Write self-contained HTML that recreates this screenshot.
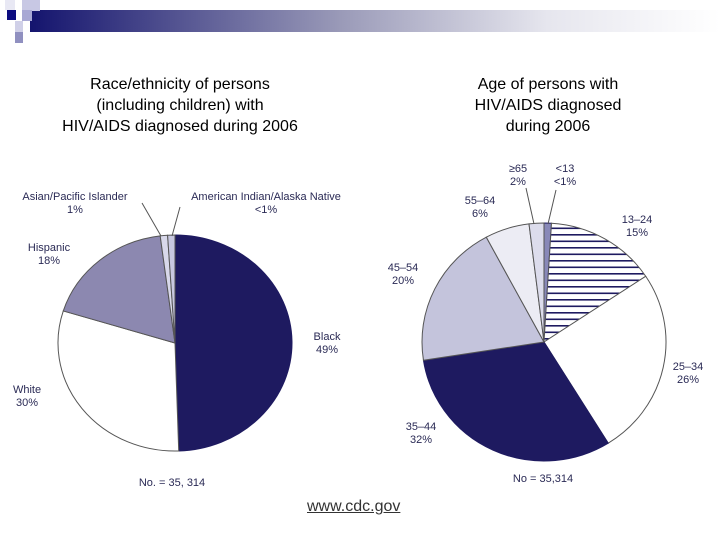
<!DOCTYPE html>
<html><head><meta charset="utf-8"><style>
body{margin:0;background:#fff;}
#wrap{position:relative;width:720px;height:540px;overflow:hidden;background:#fff;font-family:"Liberation Sans",Arial,sans-serif;}
.t{position:absolute;text-align:center;font-size:16px;color:#000;line-height:21px;}
</style></head><body>
<div id="wrap">
<svg width="720" height="540" style="position:absolute;left:0;top:0">
<defs>
<linearGradient id="bar" x1="0" x2="1" y1="0" y2="0">
<stop offset="0" stop-color="#14146e"/><stop offset="0.45" stop-color="#9a9ab8"/><stop offset="0.75" stop-color="#e6e6ee"/><stop offset="1" stop-color="#ffffff"/>
</linearGradient>
<pattern id="hatch" width="6" height="6.5" patternUnits="userSpaceOnUse"><rect width="6" height="6.5" fill="#fff"/><rect y="0" width="6" height="1.6" fill="#1e1a60"/></pattern>
</defs>
<rect x="30" y="10" width="690" height="22" fill="url(#bar)"/>
<rect x="5" y="0" width="10" height="10" fill="#e8e8f4"/>
<rect x="22" y="0" width="18" height="11" fill="#c8c8e4"/>
<rect x="7" y="10" width="9" height="10" fill="#0c0c80"/>
<rect x="22" y="10" width="10" height="11" fill="#a8a8d4"/>
<rect x="15" y="21" width="8" height="11" fill="#d0d0e8"/>
<rect x="15" y="32" width="8" height="11" fill="#9090c0"/>
<g id="pieL"></g><g id="pieR"></g>
</svg>
<div class="t" style="left:20px;top:74px;width:320px">Race/ethnicity of persons<br>(including children) with<br>HIV/AIDS diagnosed during 2006</div>
<div class="t" style="left:398px;top:74px;width:300px">Age of persons with<br>HIV/AIDS diagnosed<br>during 2006</div>
<div style="position:absolute;left:307px;top:498px;font-size:16px;color:#333;text-decoration:underline">www.cdc.gov</div>
</div>
<script>
const raceCats=["Black","White","Hispanic","Asian/Pacific Islander","American Indian/Alaska Native"];
const raceVals=[49,30,18,1,1];
const raceLabels=["49%","30%","18%","1%","<1%"];
const ageCats=["<13","13–24","25–34","35–44","45–54","55–64","≥65"];
const ageVals=[1,15,26,32,20,6,2];
const ageLabels=["<1%","15%","26%","32%","20%","6%","2%"];
const NS="http://www.w3.org/2000/svg";
function pie(g,cx,cy,rx,ry,vals,fills,names){
  const tot=vals.reduce((a,b)=>a+b,0);let a=0;
  vals.forEach((v,i)=>{
    const a0=a/tot*2*Math.PI;a+=v;const a1=a/tot*2*Math.PI;
    const x0=cx+rx*Math.sin(a0),y0=cy-ry*Math.cos(a0),x1=cx+rx*Math.sin(a1),y1=cy-ry*Math.cos(a1);
    const p=document.createElementNS(NS,"path");
    p.setAttribute("d",`M${cx},${cy}L${x0},${y0}A${rx},${ry} 0 ${(a1-a0)>Math.PI?1:0} 1 ${x1},${y1}Z`);
    p.setAttribute("fill",fills[i]);p.setAttribute("stroke",i===0||fills[i]==="#1e1a60"?"#1e1a60":"#555");p.setAttribute("stroke-width","1");
    
    
    g.appendChild(p);
  });
}
function label(lines,x,y,name,anchor){
  const t=document.createElementNS(NS,"text");
  t.setAttribute("x",x);t.setAttribute("y",y);t.setAttribute("text-anchor",anchor||"middle");
  t.setAttribute("font-family","Liberation Sans, Arial, sans-serif");t.setAttribute("font-size","11");t.setAttribute("fill","#2a2a55");
  lines.forEach((l,i)=>{const s=document.createElementNS(NS,"tspan");s.setAttribute("x",x);s.setAttribute("dy",i?13:0);s.textContent=l;t.appendChild(s);});
  
  
  document.querySelector("svg").appendChild(t);
}
function line(x1,y1,x2,y2){const l=document.createElementNS(NS,"line");l.setAttribute("x1",x1);l.setAttribute("y1",y1);l.setAttribute("x2",x2);l.setAttribute("y2",y2);l.setAttribute("stroke","#555");


document.querySelector("svg").appendChild(l);}
pie(document.getElementById("pieL"),175,343,117,108,raceVals,["#1e1a60","#fff","#8c88b0","#d8d8ea","#c8c8e0"],["slice-black","slice-white","slice-hispanic","slice-asian","slice-american-indian"]);
pie(document.getElementById("pieR"),544,342,122,119,ageVals,["#8888b8","url(#hatch)","#fff","#1e1a60","#c4c4dc","#ececf4","#dcdcec"],["slice-under-13","slice-13-24","slice-25-34","slice-35-44","slice-45-54","slice-55-64","slice-65-plus"]);
label([raceCats[0],raceLabels[0]],327,340,"label-black");
label([raceCats[1],raceLabels[1]],27,393,"label-white");
label([raceCats[2],raceLabels[2]],49,251,"label-hispanic");
label([raceCats[3],raceLabels[3]],75,200,"label-asian");
label([raceCats[4],raceLabels[4]],266,200,"label-american-indian");
label(["No. = 35, 314"],172,486,"left-sample-size");
line(142,203,161,236);line(180,207,172,236);
label([ageCats[0],ageLabels[0]],565,172,"label-under-13");
label([ageCats[1],ageLabels[1]],637,223,"label-13-24");
label([ageCats[2],ageLabels[2]],688,370,"label-25-34");
label([ageCats[3],ageLabels[3]],421,430,"label-35-44");
label([ageCats[4],ageLabels[4]],403,271,"label-45-54");
label([ageCats[5],ageLabels[5]],480,204,"label-55-64");
label([ageCats[6],ageLabels[6]],518,172,"label-65-plus");
label(["No = 35,314"],543,482,"right-sample-size");
line(526,188,534,224);line(556,190,548,224);
</script>
</body></html>
